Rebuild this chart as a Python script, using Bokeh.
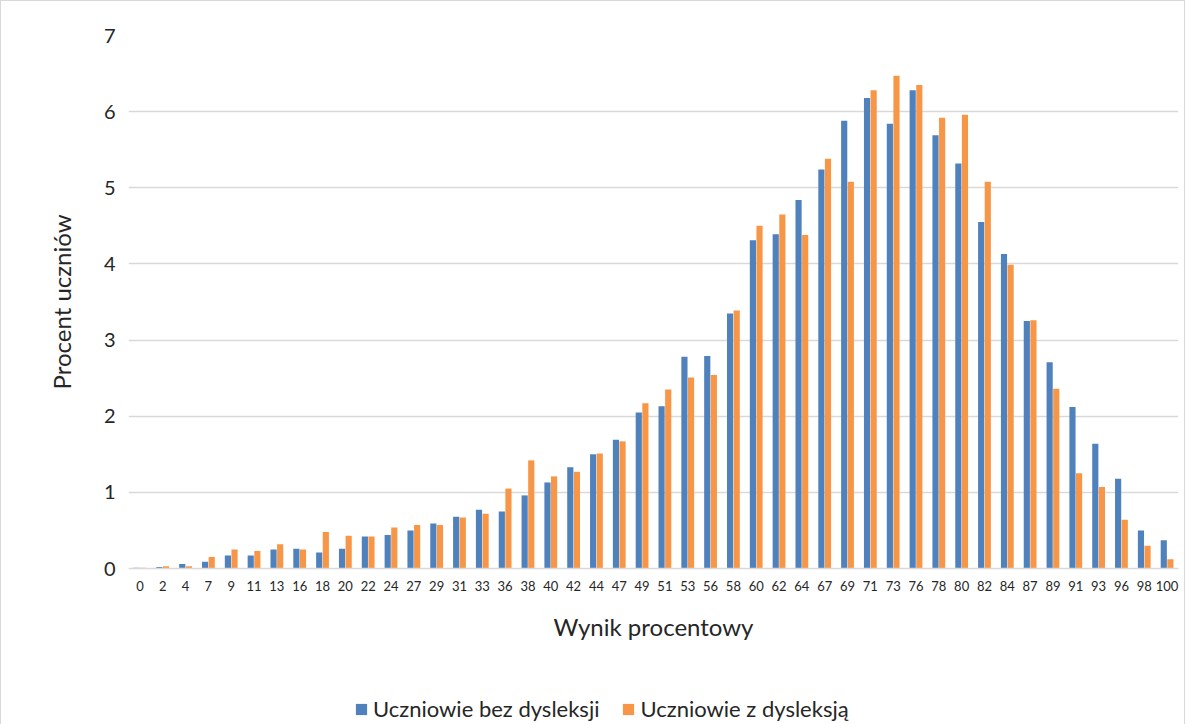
from bokeh.plotting import figure
from bokeh.layouts import column
from bokeh.models import ColumnDataSource, FactorRange, Legend, LegendItem, Range1d, FixedTicker
from bokeh.transform import dodge
from bokeh.embed import file_html
from bokeh.resources import INLINE

categories = ["0", "2", "4", "7", "9", "11", "13", "16", "18", "20", "22", "24", "27", "29", "31",
              "33", "36", "38", "40", "42", "44", "47", "49", "51", "53", "56", "58", "60", "62",
              "64", "67", "69", "71", "73", "76", "78", "80", "82", "84", "87", "89", "91", "93",
              "96", "98", "100"]
bez_dysleksji = [0.01, 0.02, 0.06, 0.09, 0.17, 0.17, 0.25, 0.26, 0.21, 0.26, 0.42, 0.44, 0.50, 0.59, 0.68,
                 0.77, 0.75, 0.96, 1.13, 1.33, 1.50, 1.69, 2.05, 2.13, 2.78, 2.79, 3.35, 4.31, 4.39,
                 4.84, 5.24, 5.88, 6.18, 5.84, 6.28, 5.69, 5.32, 4.55, 4.13, 3.25, 2.71, 2.12, 1.64,
                 1.18, 0.50, 0.37]
z_dysleksja = [0.01, 0.03, 0.03, 0.15, 0.25, 0.23, 0.32, 0.25, 0.48, 0.43, 0.42, 0.54, 0.57, 0.57, 0.67,
               0.72, 1.05, 1.42, 1.21, 1.27, 1.51, 1.67, 2.17, 2.35, 2.51, 2.54, 3.39, 4.50, 4.65,
               4.38, 5.38, 5.08, 6.28, 6.47, 6.35, 5.92, 5.96, 5.08, 3.99, 3.26, 2.36, 1.25, 1.07,
               0.64, 0.30, 0.12]
y_ticks = [0, 1, 2, 3, 4, 5, 6, 7]
series_names = ["Uczniowie bez dysleksji", "Uczniowie z dysleksją"]

BLUE = "#4F81BD"
ORANGE = "#F79646"
GRID = "#d9d9d9"
TXT = "#262626"
FONT = "Lato"
W = 1183

src = ColumnDataSource(dict(cat=categories, bez=bez_dysleksji, z=z_dysleksja))

p = figure(x_range=FactorRange(*categories, range_padding=0), y_range=Range1d(0, 7),
           width=W, height=677, output_backend="svg", toolbar_location=None,
           min_border_left=127, min_border_right=6, min_border_top=34, min_border_bottom=110)

r1 = p.vbar(x=dodge("cat", -0.145, range=p.x_range), top="bez", width=0.27, source=src,
            fill_color=BLUE, line_color=None)
r2 = p.vbar(x=dodge("cat", 0.145, range=p.x_range), top="z", width=0.27, source=src,
            fill_color=ORANGE, line_color=None)

p.outline_line_color = None
p.xgrid.grid_line_color = None
p.ygrid.grid_line_color = GRID
p.ygrid.grid_line_width = 1.5
p.yaxis.ticker = FixedTicker(ticks=y_ticks)

p.yaxis.axis_line_color = None
p.yaxis.major_tick_line_color = None
p.yaxis.minor_tick_line_color = None
p.yaxis.major_label_text_font = FONT
p.yaxis.major_label_text_font_size = "20px"
p.yaxis.major_label_text_color = TXT
p.yaxis.major_label_standoff = 7
p.yaxis.axis_label = "Procent uczniów"
p.yaxis.axis_label_text_font = FONT
p.yaxis.axis_label_text_font_size = "24px"
p.yaxis.axis_label_text_font_style = "normal"
p.yaxis.axis_label_text_color = TXT
p.yaxis.axis_label_standoff = 25

p.xaxis.axis_line_color = GRID
p.xaxis.axis_line_width = 1.5
p.xaxis.major_tick_line_color = None
p.xaxis.minor_tick_line_color = None
p.xaxis.major_label_text_font = FONT
p.xaxis.major_label_text_font_size = "13px"
p.xaxis.major_label_text_color = TXT
p.xaxis.major_label_standoff = 6
p.xaxis.axis_label = "Wynik procentowy"
p.xaxis.axis_label_text_font = FONT
p.xaxis.axis_label_text_font_size = "24px"
p.xaxis.axis_label_text_font_style = "normal"
p.xaxis.axis_label_text_color = TXT
p.xaxis.axis_label_standoff = 18

# legend strip below the chart (its frame is aligned with the chart's frame)
lf = figure(width=W, height=47, output_backend="svg", toolbar_location=None,
            x_range=Range1d(0, 1), y_range=Range1d(0, 1),
            min_border=0, outline_line_color=None)
lf.axis.visible = False
lf.grid.visible = False
dummy = ColumnDataSource(dict(x=[0.5], top=[0]))
l1 = lf.vbar(x="x", top="top", width=0.0, source=dummy, fill_color=BLUE, line_color=None)
l2 = lf.vbar(x="x", top="top", width=0.0, source=dummy, fill_color=ORANGE, line_color=None)
legend = Legend(items=[LegendItem(label=series_names[0], renderers=[l1]),
                       LegendItem(label=series_names[1], renderers=[l2])],
                orientation="horizontal", location=(226, 3),
                glyph_width=14, glyph_height=14, label_standoff=5, spacing=22,
                padding=2, margin=0, border_line_color=None, background_fill_alpha=0,
                label_text_font=FONT, label_text_font_size="22px", label_text_color=TXT)
lf.add_layout(legend)

layout = column(p, lf, spacing=0)
layout.styles = {"border": "1px solid #d9d9d9"}

open("out.html", "w").write(file_html(layout, INLINE))
